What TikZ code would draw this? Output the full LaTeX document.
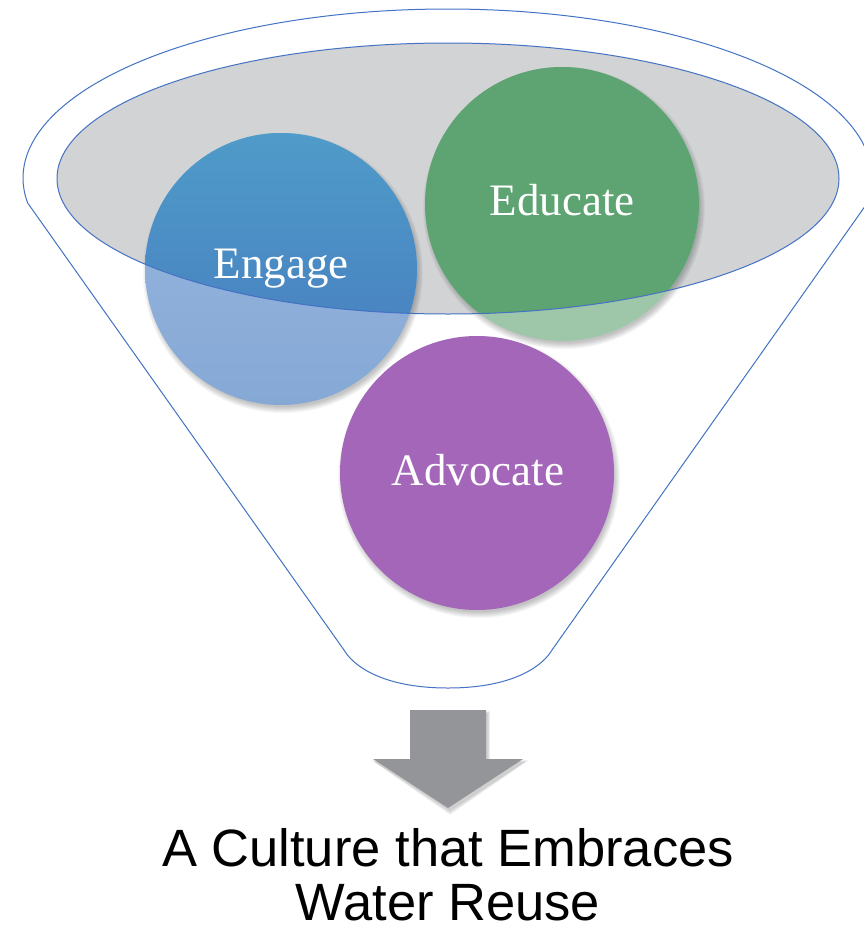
\documentclass[tikz,border=0pt]{standalone}
\usepackage{fontspec}
\setmainfont{Liberation Serif}
\newfontfamily\labelsans{Liberation Sans}
\definecolor{grayfill}{RGB}{209,211,212}
\definecolor{lineblue}{RGB}{68,114,196}
\definecolor{engtop}{RGB}{79,155,201}
\definecolor{engbot}{RGB}{70,122,190}
\definecolor{englighttop}{RGB}{150,184,222}
\definecolor{englightbot}{RGB}{134,168,213}
\definecolor{edu}{RGB}{94,163,114}
\definecolor{edulight}{RGB}{158,199,170}
\definecolor{adv}{RGB}{164,102,184}
\definecolor{arrowgray}{RGB}{147,149,152}
\newcommand{\mysoftshadow}[3]{%
  \foreach \k in {0,...,6}{%
    \fill[black,opacity=0.035] (#1+2,#2+4) circle[radius={#3+4-\k}];
  }%
}
\tikzset{
  funnelline/.style={draw=lineblue,line width=1pt},
  circlabel/.style={text=white,font=\fontsize{45}{50}\selectfont,anchor=base,inner sep=0pt},
  bottomtext/.style={text=black,font=\labelsans\fontsize{52.5}{55}\selectfont,anchor=base,inner sep=0pt}
}
\begin{document}
\begin{tikzpicture}[x=1pt,y=-1pt]
\clip (0,0) rectangle (864,929);
\fill[white] (0,0) rectangle (864,929);
% outer funnel
\draw[funnelline] plot[domain=-8.5:188.5,samples=120,smooth] ({447.5+424.5*cos(\x)},{178-169*sin(\x)})
  -- (344,650) .. controls (352,664) and (380,688) .. (448,688)
  .. controls (516,688) and (544,664) .. (552,650) -- cycle;
% gray top ellipse
\fill[grayfill] (448,178.5) ellipse[x radius=391,y radius=135.5];
% shadows
\mysoftshadow{281}{269}{136}
\mysoftshadow{562}{204}{137}
\mysoftshadow{477}{473}{137}
% Engage circle
\shade[top color=englighttop,bottom color=englightbot] (281,269) circle[radius=136];
\begin{scope}
\clip (448,178.5) ellipse[x radius=391,y radius=135.5];
\shade[top color=engtop,bottom color=engbot] (281,269) circle[radius=136];
\end{scope}
% Educate circle
\fill[edulight] (562,204) circle[radius=137];
\begin{scope}
\clip (448,178.5) ellipse[x radius=391,y radius=135.5];
\fill[edu] (562,204) circle[radius=137];
\end{scope}
% ellipse outline on top
\draw[funnelline] (448,178.5) ellipse[x radius=391,y radius=135.5];
% Advocate circle
\fill[adv] (477,473) circle[radius=137];
% labels
\node[circlabel] (engage) at (281,278) {Engage};
\node[circlabel] (educate) at (562,215) {Educate};
\node[circlabel] (advocate) at (478,485) {Advocate};
% arrow shadow
\foreach \k in {0,...,4}{
  \fill[black,opacity=0.04,shift={(2,3)}] (410-\k*0.5,710-\k*0.5) -- (486+\k*0.5,710-\k*0.5) -- (486+\k*0.5,759-\k*0.5) -- (523+\k,759-\k*0.5) -- (448,808+\k) -- (373-\k,759-\k*0.5) -- (410-\k*0.5,759-\k*0.5) -- cycle;
}
\fill[arrowgray] (410,710) -- (486,710) -- (486,759) -- (523,759) -- (448,808) -- (373,759) -- (410,759) -- cycle;
% bottom text
\node[bottomtext] (line1) at (448,866) {A Culture that Embraces};
\node[bottomtext] (line2) at (448,920) {Water Reuse};
\end{tikzpicture}
\end{document}
